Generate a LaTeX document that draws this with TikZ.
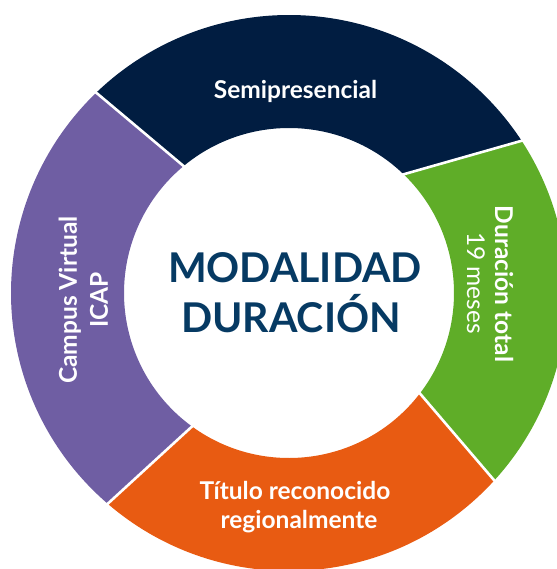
\documentclass[tikz,border=0pt]{standalone}
\usepackage{fontspec}
\setmainfont{Lato}
\usetikzlibrary{calc}
\definecolor{navyc}{HTML}{011D41}
\definecolor{greenc}{HTML}{5FAD28}
\definecolor{orangec}{HTML}{E85B12}
\definecolor{purplec}{HTML}{6F5EA3}
\definecolor{titlec}{HTML}{063A63}
\begin{document}
\begin{tikzpicture}[x=1pt,y=1pt,
  lab/.style={text=white, inner sep=0pt, font=\bfseries\fontsize{24.5}{29}\selectfont},
  sub/.style={text=white, inner sep=0pt, font=\fontsize{24.5}{29}\selectfont},
  ttl/.style={text=titlec, inner sep=0pt, font=\bfseries\fontsize{41}{50}\selectfont},
  sep/.style={draw=white, line width=2.6pt}]
\useasboundingbox (-289,-276) rectangle (267,293);
\def\R{278}\def\r{165}
% segments
\fill[navyc] (33.2:\R) arc[start angle=33.2,end angle=133.9,radius=\R] -- (129.7:\r) arc[start angle=129.7,end angle=46,radius=\r] -- cycle;
\fill[greenc] (-42.4:\R) arc[start angle=-42.4,end angle=33.2,radius=\R] -- (46:\r) arc[start angle=46,end angle=-37.5,radius=\r] -- cycle;
\fill[orangec] (229.3:\R) arc[start angle=229.3,end angle=317.6,radius=\R] -- (322.5:\r) arc[start angle=322.5,end angle=234,radius=\r] -- cycle;
\fill[purplec] (133.9:\R) arc[start angle=133.9,end angle=229.3,radius=\R] -- (234:\r) arc[start angle=234,end angle=129.7,radius=\r] -- cycle;
% separators
\coordinate (s1a) at (129.7:\r); \coordinate (s1b) at (133.9:\R);
\coordinate (s2a) at (46:\r);    \coordinate (s2b) at (33.2:\R);
\coordinate (s3a) at (-37.5:\r); \coordinate (s3b) at (-42.4:\R);
\coordinate (s4a) at (234:\r);   \coordinate (s4b) at (229.3:\R);
\draw[sep] ($(s1a)!-0.05!(s1b)$) -- ($(s1a)!1.05!(s1b)$);
\draw[sep] ($(s2a)!-0.05!(s2b)$) -- ($(s2a)!1.05!(s2b)$);
\draw[sep] ($(s3a)!-0.05!(s3b)$) -- ($(s3a)!1.05!(s3b)$);
\draw[sep] ($(s4a)!-0.05!(s4b)$) -- ($(s4a)!1.05!(s4b)$);
% labels
\node[lab, anchor=base] (semi) at (6.5,194) {Semipresencial};
\node[lab, anchor=base, rotate=-90] (dur) at (206,9) {Duración total};
\node[sub, anchor=base, rotate=-90] (mes) at (178,10) {19 meses};
\node[lab, anchor=base] (tit1) at (6,-206) {Título reconocido};
\node[lab, anchor=base] (tit2) at (10,-235) {regionalmente};
\node[lab, anchor=base, rotate=90] (camp) at (-212,-7) {Campus Virtual};
\node[lab, anchor=base, rotate=90] (icap) at (-181,-7) {ICAP};
\node[ttl, anchor=base] (mod) at (6,10) {MODALIDAD};
\node[ttl, anchor=base] (dura) at (2,-40) {DURACIÓN};
\end{tikzpicture}
\end{document}
